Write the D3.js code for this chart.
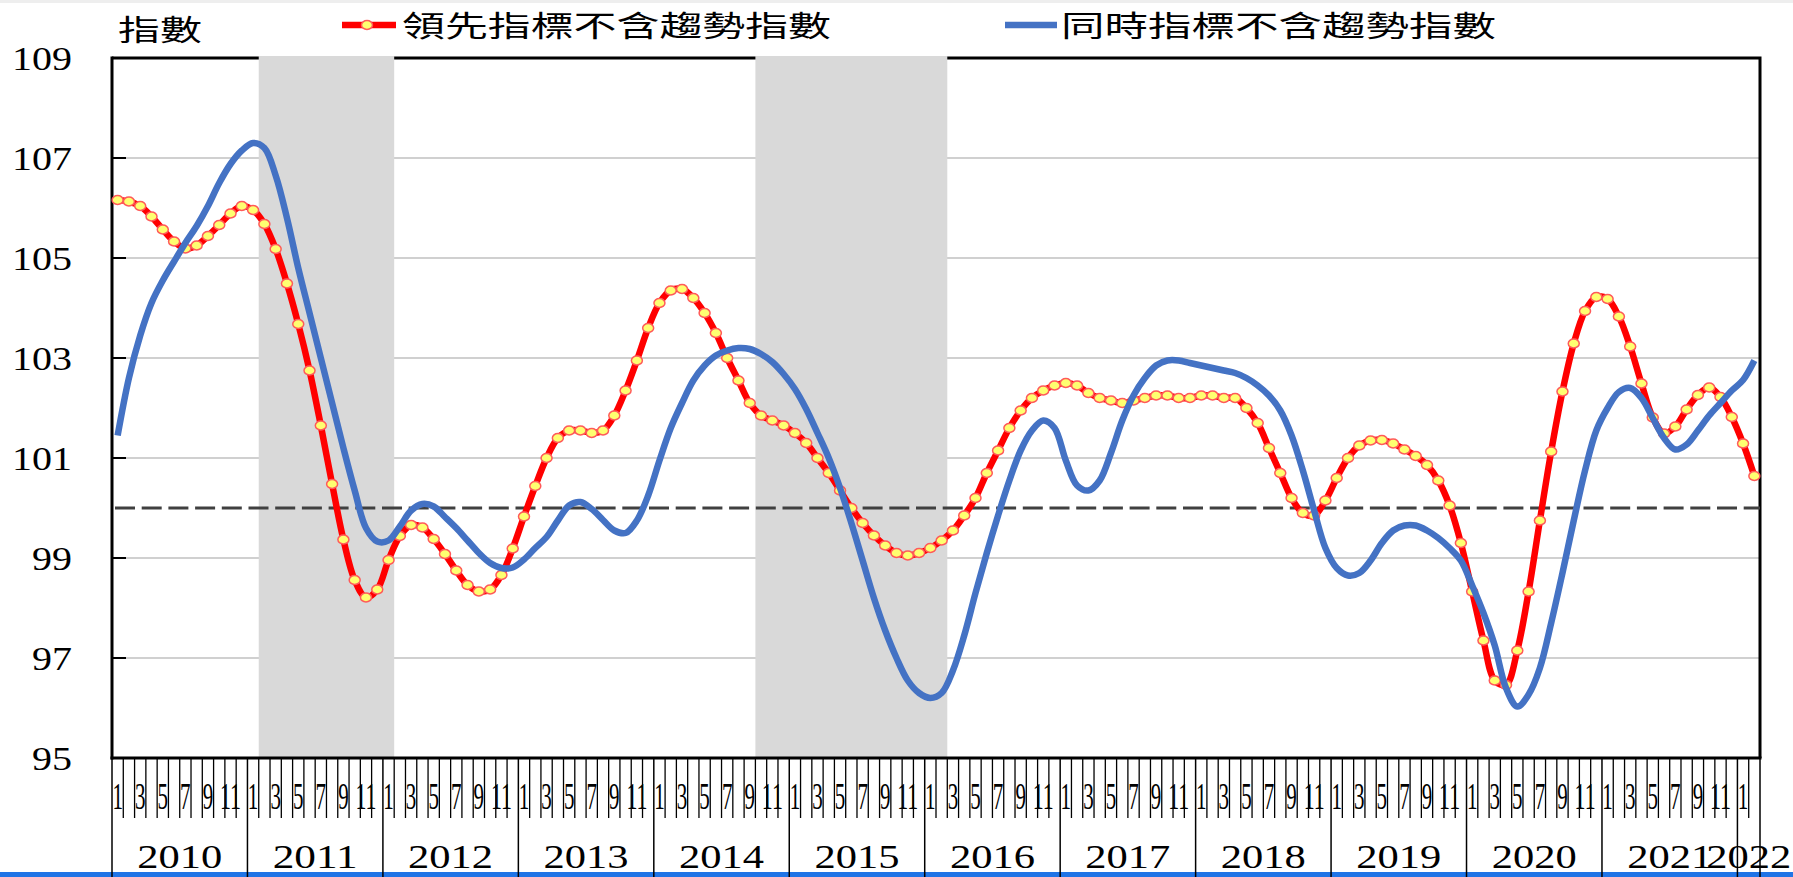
<!DOCTYPE html>
<html>
<head>
<meta charset="utf-8">
<script src="https://cdn.jsdelivr.net/npm/d3@7"></script>
<style>
  body { margin: 0; background: #fff; }
  svg { display: block; }
</style>
</head>
<body>
<div id="chart"></div>
<script>
// year categories (Jan 2010 .. Feb 2022, monthly)
const years = ["2010", "2011", "2012", "2013", "2014", "2015", "2016", "2017", "2018", "2019", "2020", "2021", "2022"];
const monthLabels = ["1", "", "3", "", "5", "", "7", "", "9", "", "11", ""];
const nMonths = 146;

// 領先指標不含趨勢指數
const lead = [
  106.16, 106.13, 106.04, 105.83, 105.57, 105.33, 105.19, 105.25, 105.44, 105.66, 105.89, 106.04,
  105.96, 105.68, 105.18, 104.49, 103.68, 102.75, 101.65, 100.48, 99.37, 98.56, 98.21, 98.37,
  98.96, 99.44, 99.66, 99.61, 99.38, 99.08, 98.75, 98.46, 98.33, 98.37, 98.66, 99.19,
  99.83, 100.44, 101.0, 101.4, 101.55, 101.55, 101.5, 101.55, 101.85, 102.35, 102.95, 103.6,
  104.1, 104.35, 104.38, 104.2, 103.9, 103.5, 103.0, 102.55, 102.1, 101.85, 101.75, 101.65,
  101.5, 101.3, 101.0, 100.7, 100.35, 100.0, 99.7, 99.45, 99.25, 99.1, 99.05, 99.1,
  99.2, 99.35, 99.55, 99.85, 100.2, 100.7, 101.15, 101.6, 101.95, 102.2, 102.35, 102.45,
  102.5, 102.45, 102.3, 102.2, 102.15, 102.1, 102.15, 102.2, 102.25, 102.25, 102.2, 102.2,
  102.25, 102.25, 102.2, 102.2, 102.0, 101.7, 101.2, 100.7, 100.2, 99.9, 99.85, 100.15,
  100.6, 101.0, 101.25, 101.35, 101.36, 101.29, 101.17, 101.04, 100.86, 100.55, 100.05, 99.3,
  98.33, 97.35, 96.55, 96.46, 97.15, 98.33, 99.75, 101.13, 102.33, 103.29, 103.94, 104.22,
  104.18, 103.83, 103.23, 102.49, 101.81, 101.49, 101.63, 101.97, 102.26, 102.41, 102.22, 101.82,
  101.29, 100.64
];

// 同時指標不含趨勢指數
const coin = [
  101.45, 102.6, 103.45, 104.1, 104.55, 104.93, 105.3, 105.64, 106.04, 106.5, 106.88, 107.15,
  107.3, 107.2, 106.65, 105.8, 104.8, 103.9, 103.0, 102.1, 101.2, 100.35, 99.6, 99.33,
  99.35, 99.63, 99.95, 100.08, 100.03, 99.82, 99.6, 99.35, 99.1, 98.9, 98.8, 98.81,
  98.97, 99.2, 99.42, 99.75, 100.05, 100.12, 99.98, 99.76, 99.55, 99.5, 99.75, 100.25,
  100.95, 101.6, 102.1, 102.55, 102.85, 103.05, 103.15, 103.2, 103.18, 103.08, 102.92, 102.68,
  102.38, 101.98, 101.5, 101.0, 100.4, 99.7, 98.95, 98.2, 97.55, 97.0, 96.55, 96.3,
  96.2, 96.3, 96.75, 97.45, 98.3, 99.1, 99.85, 100.55, 101.15, 101.55, 101.75, 101.6,
  100.95, 100.45, 100.35, 100.55, 101.1, 101.75, 102.25, 102.6, 102.85, 102.95, 102.95, 102.9,
  102.85, 102.8, 102.75, 102.7, 102.6, 102.45, 102.25, 101.95, 101.45, 100.75, 99.95, 99.2,
  98.8, 98.65, 98.7, 98.95, 99.3, 99.55, 99.65, 99.65, 99.55, 99.4, 99.2, 98.95,
  98.45, 97.9, 97.25, 96.4, 96.03, 96.27, 96.8, 97.7, 98.7, 99.75, 100.75, 101.55,
  102.0, 102.32, 102.4, 102.2, 101.8, 101.4, 101.17, 101.27, 101.55, 101.85, 102.1, 102.35,
  102.56, 102.95
];

// contraction periods, as [first month index, end month index)
const shaded = [[13, 25], [57, 74]];
const yTicks = [95, 97, 99, 101, 103, 105, 107, 109];
const baseLine = 100;

const W = 1793, H = 877;
const plot = { left: 112, right: 1760, top: 58, bottom: 758 };

const svg = d3.select("#chart").append("svg")
  .attr("width", W).attr("height", H);

const x = d3.scaleLinear().domain([0, nMonths]).range([plot.left, plot.right]);
const y = d3.scaleLinear().domain([95, 109]).range([plot.bottom, plot.top]);
const cx = (i) => x(i + 0.5);

// thin strip on top, blue bar at bottom (as in the screenshot)
svg.append("rect").attr("x", 0).attr("y", 0).attr("width", W).attr("height", 3).attr("fill", "#eeeeee");
svg.append("rect").attr("x", 0).attr("y", 872).attr("width", W).attr("height", 5).attr("fill", "#1f74e6");

// gridlines
svg.append("g")
  .selectAll("line")
  .data(yTicks.filter((t) => t > 95 && t < 109))
  .join("line")
  .attr("x1", plot.left).attr("x2", plot.right)
  .attr("y1", (d) => y(d)).attr("y2", (d) => y(d))
  .attr("stroke", "#c0c0c0").attr("stroke-width", 1.3);

// top and right border
svg.append("path")
  .attr("d", `M${plot.left},${plot.top}H${plot.right}V${plot.bottom}`)
  .attr("fill", "none").attr("stroke", "#000").attr("stroke-width", 3);

// shaded periods
svg.append("g")
  .selectAll("rect")
  .data(shaded)
  .join("rect")
  .attr("x", (d) => x(d[0]))
  .attr("width", (d) => x(d[1]) - x(d[0]))
  .attr("y", plot.top - 2)
  .attr("height", plot.bottom - plot.top + 2)
  .attr("fill", "#d9d9d9");

// dashed line at 100
svg.append("line")
  .attr("x1", plot.left + 3).attr("x2", plot.right)
  .attr("y1", y(baseLine)).attr("y2", y(baseLine))
  .attr("stroke", "#404040").attr("stroke-width", 2.8)
  .attr("stroke-dasharray", "20,6.7");

// left axis with inner ticks
svg.append("g")
  .selectAll("line")
  .data(yTicks)
  .join("line")
  .attr("x1", plot.left).attr("x2", plot.left + 14)
  .attr("y1", (d) => y(d)).attr("y2", (d) => y(d))
  .attr("stroke", "#000").attr("stroke-width", 2);
svg.append("line")
  .attr("x1", plot.left).attr("x2", plot.left)
  .attr("y1", plot.top - 1.5).attr("y2", plot.bottom + 1.5)
  .attr("stroke", "#000").attr("stroke-width", 3);

svg.append("g")
  .selectAll("text")
  .data(yTicks)
  .join("text")
  .attr("x", 72)
  .attr("y", (d) => y(d) + 11.5)
  .attr("text-anchor", "end")
  .attr("font-family", "'Liberation Serif', 'Times New Roman', serif")
  .attr("font-size", 33)
  .attr("textLength", (d) => String(d).length * 20)
  .attr("lengthAdjust", "spacingAndGlyphs")
  .text((d) => d);

// x axis: month ticks and year separators
const bottomAxis = svg.append("g");
bottomAxis.selectAll("line.m")
  .data(d3.range(1, nMonths).filter((k) => k % 12 !== 0))
  .join("line")
  .attr("class", "m")
  .attr("x1", (d) => x(d)).attr("x2", (d) => x(d))
  .attr("y1", plot.bottom).attr("y2", 818)
  .attr("stroke", "#000").attr("stroke-width", 1.3);
bottomAxis.selectAll("line.y")
  .data(d3.range(0, nMonths, 12).concat([nMonths]))
  .join("line")
  .attr("class", "y")
  .attr("x1", (d) => x(d)).attr("x2", (d) => x(d))
  .attr("y1", plot.bottom).attr("y2", H)
  .attr("stroke", "#000").attr("stroke-width", 1.5);

bottomAxis.selectAll("text.m")
  .data(d3.range(nMonths).filter((i) => monthLabels[i % 12] !== ""))
  .join("text")
  .attr("class", "m")
  .attr("x", (d) => cx(d))
  .attr("y", 809)
  .attr("text-anchor", "middle")
  .attr("font-family", "'Liberation Serif', 'Times New Roman', serif")
  .attr("font-size", 38)
  .attr("textLength", (d) => monthLabels[d % 12].length * 10.5)
  .attr("lengthAdjust", "spacingAndGlyphs")
  .text((d) => monthLabels[d % 12]);

bottomAxis.selectAll("text.y")
  .data(years)
  .join("text")
  .attr("class", "y")
  .attr("x", (d, i) => (x(i * 12) + x(Math.min((i + 1) * 12, nMonths))) / 2)
  .attr("y", 868)
  .attr("text-anchor", "middle")
  .attr("font-family", "'Liberation Serif', 'Times New Roman', serif")
  .attr("font-size", 33)
  .attr("textLength", 85)
  .attr("lengthAdjust", "spacingAndGlyphs")
  .text((d) => d);

svg.append("line")
  .attr("x1", plot.left - 1.5).attr("x2", plot.right + 1.5)
  .attr("y1", plot.bottom).attr("y2", plot.bottom)
  .attr("stroke", "#000").attr("stroke-width", 3);

// series
const line = d3.line()
  .x((d, i) => cx(i))
  .y((d) => y(d))
  .curve(d3.curveCatmullRom.alpha(0.5));

svg.append("path")
  .datum(lead)
  .attr("d", line)
  .attr("fill", "none")
  .attr("stroke", "#ff0000")
  .attr("stroke-width", 6.5)
  .attr("stroke-linejoin", "round");

svg.append("g")
  .selectAll("ellipse")
  .data(lead)
  .join("ellipse")
  .attr("cx", (d, i) => cx(i))
  .attr("cy", (d) => y(d))
  .attr("rx", 5.5).attr("ry", 4.5)
  .attr("fill", "#ffff70")
  .attr("stroke", "#ff5a5a")
  .attr("stroke-width", 1.5);

svg.append("path")
  .datum(coin)
  .attr("d", line)
  .attr("fill", "none")
  .attr("stroke", "#4472c4")
  .attr("stroke-width", 6.5)
  .attr("stroke-linejoin", "round");

// legend and unit label
const cjk = "'Noto Sans CJK TC', 'Noto Sans CJK SC', sans-serif";
svg.append("text")
  .attr("x", 118).attr("y", 41)
  .attr("font-family", cjk).attr("font-size", 29)
  .attr("textLength", 84).attr("lengthAdjust", "spacingAndGlyphs")
  .text("指數");

svg.append("line")
  .attr("x1", 342).attr("x2", 396).attr("y1", 25).attr("y2", 25)
  .attr("stroke", "#ff0000").attr("stroke-width", 6.5);
svg.append("ellipse")
  .attr("cx", 367).attr("cy", 25).attr("rx", 5.5).attr("ry", 4.5)
  .attr("fill", "#ffff70").attr("stroke", "#ff5a5a").attr("stroke-width", 1.5);
svg.append("text")
  .attr("x", 402).attr("y", 37)
  .attr("font-family", cjk).attr("font-size", 29)
  .attr("textLength", 429).attr("lengthAdjust", "spacingAndGlyphs")
  .text("領先指標不含趨勢指數");

svg.append("line")
  .attr("x1", 1005).attr("x2", 1057).attr("y1", 25).attr("y2", 25)
  .attr("stroke", "#4472c4").attr("stroke-width", 6.5);
svg.append("text")
  .attr("x", 1061).attr("y", 37)
  .attr("font-family", cjk).attr("font-size", 29)
  .attr("textLength", 435).attr("lengthAdjust", "spacingAndGlyphs")
  .text("同時指標不含趨勢指數");
</script>
</body>
</html>
